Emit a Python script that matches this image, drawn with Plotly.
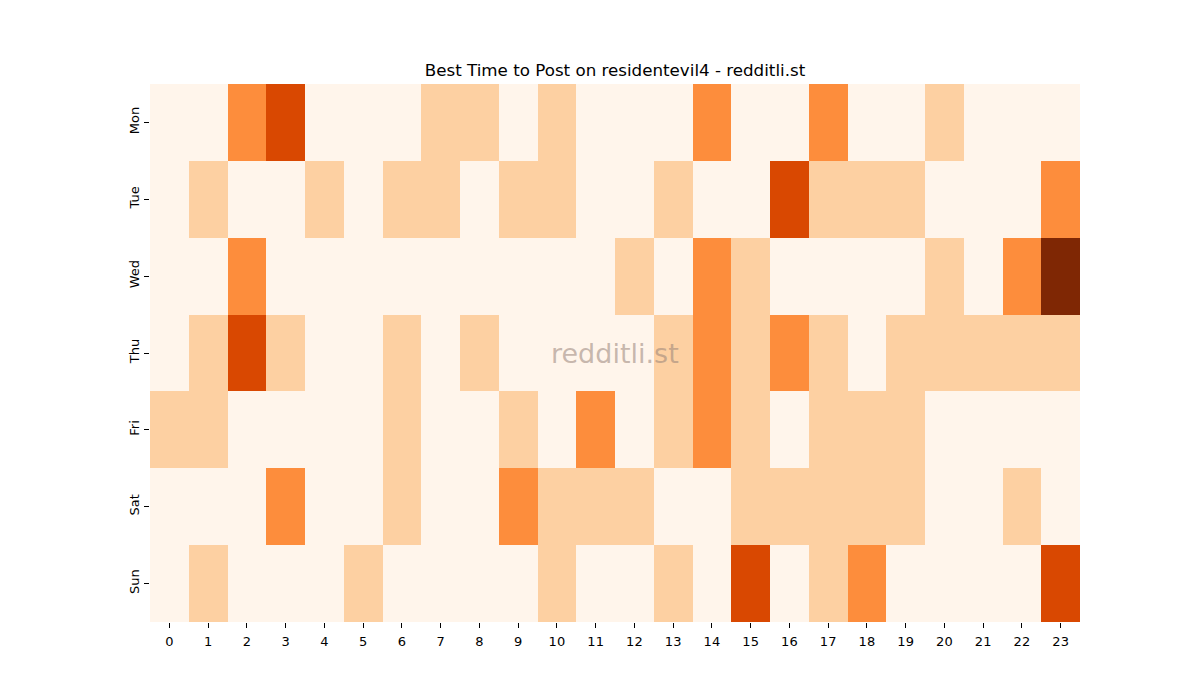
import plotly.graph_objects as go

days = ["Mon", "Tue", "Wed", "Thu", "Fri", "Sat", "Sun"]
hours = list(range(24))

mon = [0,0,2,3,0,0,0,1,1,0,1,0,0,0,2,0,0,2,0,0,1,0,0,0]
tue = [0,1,0,0,1,0,1,1,0,1,1,0,0,1,0,0,3,1,1,1,0,0,0,2]
wed = [0,0,2,0,0,0,0,0,0,0,0,0,1,0,2,1,0,0,0,0,1,0,2,4]
thu = [0,1,3,1,0,0,1,0,1,0,0,0,0,1,2,1,2,1,0,1,1,1,1,1]
fri = [1,1,0,0,0,0,1,0,0,1,0,2,0,1,2,1,0,1,1,1,0,0,0,0]
sat = [0,0,0,2,0,0,1,0,0,2,1,1,1,0,0,1,1,1,1,1,0,0,1,0]
sun = [0,1,0,0,0,1,0,0,0,0,1,0,0,1,0,3,0,1,2,0,0,0,0,3]

z = [mon, tue, wed, thu, fri, sat, sun]

colorscale = [
    [0.0, "#fff5eb"],
    [0.25, "#fdd0a2"],
    [0.5, "#fd8d3c"],
    [0.75, "#d94801"],
    [1.0, "#7f2704"],
]

fig = go.Figure(go.Heatmap(
    z=z, x=hours, y=days, colorscale=colorscale, zmin=0, zmax=4,
    showscale=False, xgap=0, ygap=0,
))

fig.update_layout(
    width=1200, height=700,
    margin=dict(l=150, r=120, t=84, b=78),
    paper_bgcolor="white", plot_bgcolor="white",
    font=dict(family="DejaVu Sans", size=13, color="black"),
    title=dict(text="Best Time to Post on residentevil4 - redditli.st",
               xref="container", x=615/1200, xanchor="center",
               y=1 - 70/700, yanchor="middle",
               font=dict(size=16.7)),
    xaxis=dict(tickmode="array", tickvals=hours, ticktext=[str(h) for h in hours],
               ticks="outside", ticklen=5, tickcolor="black", showgrid=False,
               zeroline=False, showline=False, range=[-0.5, 23.5],
               ticklabelstandoff=2),
    yaxis=dict(autorange="reversed", ticks="outside", ticklen=5, tickcolor="black",
               tickangle=-90, showgrid=False, zeroline=False, showline=False),
    annotations=[dict(text="redditli.st", x=0.5, y=0.5, xref="paper", yref="paper",
                      showarrow=False, font=dict(size=27, color="rgba(150,130,120,0.55)"))],
)

fig.write_html("out.html")
